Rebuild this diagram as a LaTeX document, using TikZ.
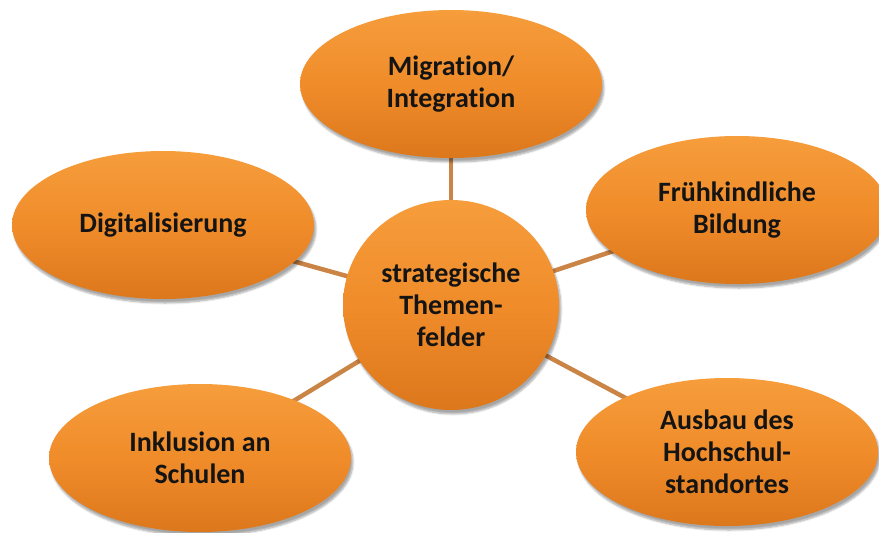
\documentclass[tikz,border=0pt]{standalone}
\usepackage{fontspec}
\setmainfont[Ligatures=NoCommon]{Carlito}
\usetikzlibrary{shapes.geometric,backgrounds,shadows.blur}
\definecolor{orangemid}{HTML}{F08C2A}
\definecolor{orangelight}{HTML}{F69D3C}
\definecolor{orangedark}{HTML}{DC781C}
\definecolor{linkcol}{HTML}{C98446}
\definecolor{txt}{HTML}{141414}
\tikzset{
  glow/.style 2 args={path picture={
    \draw[white, opacity=0.5, line width=3pt, line cap=round,
          shift={(path picture bounding box.center)}]
      (188:#1pt and #2pt) arc[start angle=188, end angle=250, x radius=#1pt, y radius=#2pt];}},
  bubble/.style={ellipse, minimum width=302pt, minimum height=148pt, inner sep=0pt,
    top color=orangelight, bottom color=orangedark, middle color=orangemid, draw=none,
    blur shadow={shadow xshift=2pt, shadow yshift=-4pt, shadow blur steps=6, shadow opacity=35},
    font=\bfseries\fontsize{28}{32}\selectfont, text=txt, align=center, glow={143}{66}},
  hub/.style={bubble, minimum width=216pt, minimum height=210pt, glow={101}{98}},
  link/.style={draw=linkcol, line width=4.5pt},
}
\begin{document}
\begin{tikzpicture}[x=1pt, y=-1pt]
  \useasboundingbox (0,0) rectangle (879,533);
  \node[hub]    (hub)   at (451,305) {strategische\\Themen-\\felder};
  \node[bubble] (top)   at (451,84)  {Migration/\\Integration};
  \node[bubble] (left)  at (163,225) {Digitalisierung};
  \node[bubble] (right) at (737,210) {Frühkindliche\\Bildung};
  \node[bubble] (bl)    at (200,458) {Inklusion an\\Schulen};
  \node[bubble] (br)    at (727,452) {Ausbau des\\Hochschul-\\standortes};
  \begin{pgfonlayer}{background}
    \draw[link] (hub.center) -- (top.center);
    \draw[link] (hub.center) -- (left.center);
    \draw[link] (hub.center) -- (right.center);
    \draw[link] (hub.center) -- (bl.center);
    \draw[link] (hub.center) -- (br.center);
  \end{pgfonlayer}
\end{tikzpicture}
\end{document}
